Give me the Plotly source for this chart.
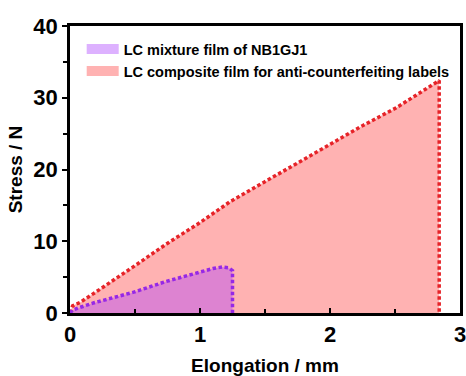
import plotly.graph_objects as go

# Data
red_x = [0, 0.02, 0.08, 0.15, 0.23, 0.5, 0.74, 1.0, 1.23, 1.49, 1.74, 2.0, 2.25, 2.51, 2.77, 2.84, 2.84]
red_y = [0.0, 1.0, 1.5, 2.3, 3.3, 6.6, 9.6, 12.6, 15.5, 18.2, 20.8, 23.6, 26.1, 28.6, 31.7, 32.4, 0.0]
pur_x = [0, 0.02, 0.08, 0.18, 0.49, 0.74, 1.0, 1.1, 1.17, 1.22, 1.25, 1.25]
pur_y = [0.0, 0.4, 0.8, 1.4, 2.9, 4.4, 5.7, 6.2, 6.4, 6.3, 5.9, 0.0]
names = ["LC mixture film of NB1GJ1", "LC composite film for anti-counterfeiting labels"]
x_ticks = [0, 1, 2, 3]
y_ticks = [0, 10, 20, 30, 40]

red_fill = "rgba(255,0,0,0.3)"
pur_fill = "rgba(170,60,255,0.4)"
red_line = "rgb(230,35,40)"
pur_line = "rgb(150,40,230)"

fig = go.Figure()
fig.add_trace(go.Scatter(x=red_x, y=red_y, mode="lines", fill="tozeroy", fillcolor=red_fill,
                         line=dict(color=red_line, width=3.5, dash="3.5px,2.5px"), showlegend=False))
fig.add_trace(go.Scatter(x=pur_x, y=pur_y, mode="lines", fill="tozeroy", fillcolor=pur_fill,
                         line=dict(color=pur_line, width=3.5, dash="3.5px,2.5px"), showlegend=False))
# legend entries (wide line swatches)
fig.add_trace(go.Scatter(x=[None], y=[None], mode="lines", line=dict(color=pur_fill, width=15),
                         name="<b>" + names[0] + "</b>"))
fig.add_trace(go.Scatter(x=[None], y=[None], mode="lines", line=dict(color=red_fill, width=15),
                         name="<b>" + names[1] + "</b>"))

font = "Arial, Liberation Sans, sans-serif"
fig.update_layout(
    width=466, height=376,
    margin=dict(l=70, r=6, t=26, b=63),
    paper_bgcolor="white", plot_bgcolor="white",
    font=dict(family=font, color="black"),
    legend=dict(x=0.03, y=0.975, xanchor="left", yanchor="top", bgcolor="rgba(0,0,0,0)",
                font=dict(size=14.5, family=font), itemwidth=32, tracegroupgap=0),
)
fig.update_xaxes(range=[0, 3], tickvals=x_ticks, ticktext=[f"<b>{v}</b>" for v in x_ticks],
                 ticks="inside", ticklen=5, tickwidth=2, automargin=False, ticklabeloverflow="allow",
                 tickcolor="black", showline=True, linewidth=2.5, linecolor="black", mirror=True,
                 showgrid=False, zeroline=False,
                 tickfont=dict(size=22, family=font),
                 minor=dict(tickvals=[0.5, 1.5, 2.5], ticks="inside", ticklen=4, tickwidth=2, tickcolor="black"),
                 title=dict(text="<b>Elongation / mm</b>", font=dict(size=19, family=font), standoff=16))
fig.update_yaxes(range=[0, 40], tickvals=y_ticks, ticktext=[f"<b>{v}</b>" for v in y_ticks],
                 ticks="outside", ticklen=5, tickwidth=2, automargin=False, ticklabeloverflow="allow",
                 tickcolor="black", showline=True, linewidth=2.5, linecolor="black", mirror=True,
                 showgrid=False, zeroline=False,
                 tickfont=dict(size=22, family=font),
                 minor=dict(tickvals=[5, 15, 25, 35], ticks="outside", ticklen=4, tickwidth=2, tickcolor="black"),
                 title=dict(text="<b>Stress / N</b>", font=dict(size=19, family=font), standoff=6))

fig.write_html("out.html")
